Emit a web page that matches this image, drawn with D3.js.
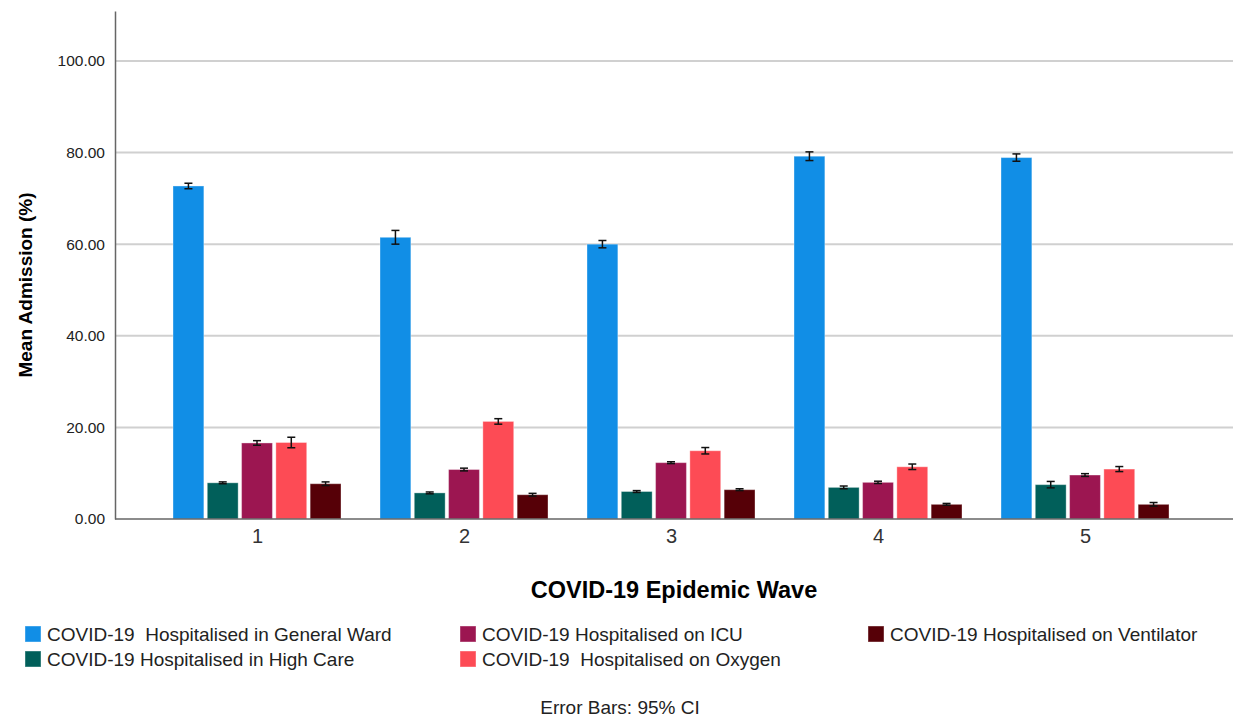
<!DOCTYPE html>
<html>
<head>
<meta charset="utf-8">
<script src="https://cdn.jsdelivr.net/npm/d3@7"></script>
<style>
  body { margin: 0; background: #fff; }
  text { font-family: "Liberation Sans", Arial, sans-serif; }
</style>
</head>
<body>
<div id="chart"></div>
<script>
// waves on the x axis
let waves = ["1", "2", "3", "4", "5"];

let seriesNames = [
    "COVID-19  Hospitalised in General Ward",
    "COVID-19 Hospitalised in High Care",
    "COVID-19 Hospitalised on ICU",
    "COVID-19  Hospitalised on Oxygen",
    "COVID-19 Hospitalised on Ventilator"
];
let seriesColors = ["#118ee6", "#015f5a", "#9c1651", "#fd4b55", "#560007"];

// mean admission per wave, one array per series
let generalWard = [72.7, 61.5, 60.0, 79.2, 78.9];
let highCare    = [7.9, 5.7, 6.0, 6.9, 7.5];
let icu         = [16.6, 10.8, 12.3, 8.0, 9.6];
let oxygen      = [16.7, 21.3, 14.9, 11.4, 10.9];
let ventilator  = [7.7, 5.3, 6.4, 3.2, 3.2];

// half width of the 95% CI
let generalWardErr = [0.6, 1.5, 0.8, 0.95, 0.8];
let highCareErr    = [0.2, 0.2, 0.2, 0.3, 0.7];
let icuErr         = [0.5, 0.3, 0.2, 0.25, 0.3];
let oxygenErr      = [1.15, 0.6, 0.7, 0.6, 0.55];
let ventilatorErr  = [0.4, 0.3, 0.2, 0.2, 0.4];

let yTicks = [0, 20, 40, 60, 80, 100];

let values = [generalWard, highCare, icu, oxygen, ventilator];
let errors = [generalWardErr, highCareErr, icuErr, oxygenErr, ventilatorErr];

let data = [];
waves.forEach((w, i) => {
    seriesNames.forEach((s, j) => {
        data.push({wave: w, series: s, idx: j, value: values[j][i], err: errors[j][i]});
    });
});

let width = 1234;
let height = 717;
let plotLeft = 115, plotRight = 1233, plotTop = 11, plotBottom = 519;

let chart = d3.select("#chart").append("svg")
    .attr("width", width).attr("height", height);

let xscale = d3.scalePoint()
    .domain(waves)
    .range([plotLeft, 1227])
    .padding(0.686);

let inner = d3.scaleBand()
    .domain(seriesNames)
    .range([-84, 84])
    .paddingInner(0.1);

let yscale = d3.scaleLinear()
    .domain([0, 110.9])
    .range([plotBottom, plotTop]);

let color = d3.scaleOrdinal().domain(seriesNames).range(seriesColors);

// gridlines
chart.append("g")
    .selectAll("line")
    .data(yTicks.filter(d => d > 0))
    .enter().append("line")
    .attr("x1", plotLeft).attr("x2", plotRight)
    .attr("y1", d => yscale(d)).attr("y2", d => yscale(d))
    .style("stroke", "#d0d0d0")
    .style("stroke-width", 2);

// y axis
let yAxis = chart.append("g")
    .attr("transform", "translate(" + plotLeft + ",0)")
    .call(d3.axisLeft(yscale).tickValues(yTicks).tickSize(0).tickPadding(10).tickFormat(d3.format(".2f")));
yAxis.select(".domain").style("stroke", "#666").style("stroke-width", 1.5);
yAxis.selectAll("text").style("font-size", "15.5px").style("fill", "#222");

// bars
chart.append("g")
    .selectAll("rect")
    .data(data)
    .enter().append("rect")
    .attr("x", d => xscale(d.wave) + inner(d.series))
    .attr("width", inner.bandwidth())
    .attr("y", d => yscale(d.value))
    .attr("height", d => yscale(0) - yscale(d.value))
    .style("fill", d => color(d.series))
    .style("stroke", "#ffffff")
    .style("stroke-opacity", 0.35)
    .style("stroke-width", 1);

// error bars
let eb = chart.append("g").selectAll("g").data(data).enter().append("g")
    .attr("transform", d => "translate(" + (xscale(d.wave) + inner(d.series) + inner.bandwidth() / 2) + ",0)");
eb.append("line")
    .attr("y1", d => yscale(d.value - d.err)).attr("y2", d => yscale(d.value + d.err))
    .style("stroke", "#111").style("stroke-width", 1.5);
eb.append("line")
    .attr("x1", -4).attr("x2", 4)
    .attr("y1", d => yscale(d.value + d.err)).attr("y2", d => yscale(d.value + d.err))
    .style("stroke", "#111").style("stroke-width", 1.5);
eb.append("line")
    .attr("x1", -4).attr("x2", 4)
    .attr("y1", d => yscale(d.value - d.err)).attr("y2", d => yscale(d.value - d.err))
    .style("stroke", "#111").style("stroke-width", 1.5);

// x axis
let xAxis = chart.append("g")
    .attr("transform", "translate(0," + plotBottom + ")")
    .call(d3.axisBottom(xscale).tickSize(0).tickPadding(10));
xAxis.select(".domain").attr("d", "M" + plotLeft + ",0H" + plotRight).style("stroke", "#666").style("stroke-width", 1.5);
xAxis.selectAll("text").style("font-size", "20px").style("fill", "#333");

// axis titles
chart.append("text")
    .attr("transform", "translate(32,285) rotate(-90)")
    .style("text-anchor", "middle")
    .style("font-size", "19px")
    .style("font-weight", "bold")
    .text("Mean Admission (%)");

chart.append("text")
    .attr("x", 674).attr("y", 598)
    .style("text-anchor", "middle")
    .style("font-size", "23.5px")
    .style("font-weight", "bold")
    .text("COVID-19 Epidemic Wave");

// legend
let legendPos = [[25, 626], [25, 651], [460, 626], [460, 651], [868, 626]];
let legend = chart.append("g").selectAll("g").data(seriesNames).enter().append("g")
    .attr("transform", (d, i) => "translate(" + legendPos[i][0] + "," + legendPos[i][1] + ")");
legend.append("rect")
    .attr("width", 16).attr("height", 16)
    .style("fill", d => color(d))
    .style("stroke", "#ffffff").style("stroke-opacity", 0.4);
legend.append("text")
    .attr("x", 22).attr("y", 15)
    .style("font-size", "19px")
    .style("fill", "#222")
    .style("white-space", "pre")
    .attr("xml:space", "preserve")
    .text(d => d);

chart.append("text")
    .attr("x", 620).attr("y", 714)
    .style("text-anchor", "middle")
    .style("font-size", "19px")
    .style("fill", "#222")
    .text("Error Bars: 95% CI");
</script>
</body>
</html>
